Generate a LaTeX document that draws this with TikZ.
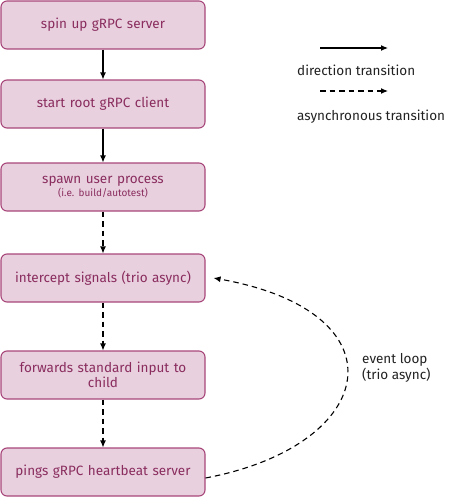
\documentclass[tikz,border=0pt]{standalone}
\usepackage{fontspec}
\setmainfont{Fira Sans}
\usepackage{xcolor}
\usepackage{tikz}
\usetikzlibrary{arrows.meta,positioning}

\definecolor{boxfill}{HTML}{E8D0DF}
\definecolor{boxline}{HTML}{A8477A}
\definecolor{boxtext}{HTML}{8A2D5E}
\definecolor{inktext}{HTML}{222222}

\begin{document}
\frenchspacing
\begin{tikzpicture}[
    x=1pt, y=1pt,
    box/.style={rectangle, draw=boxline, fill=boxfill, rounded corners=6pt, line width=1.1pt, minimum width=204pt, minimum height=48pt, text width=194pt, align=center, text=boxtext, font=\fontsize{13.5}{15}\selectfont},
    arrow/.style={-{Latex[length=7pt,width=6pt]}, line width=1.1pt},
    async/.style={arrow, dash pattern=on 5.5pt off 4pt},
    lbl/.style={text=inktext, font=\fontsize{13.5}{16.5}\selectfont, align=left, anchor=west, inner sep=0pt}
]
    \useasboundingbox (0,0) rectangle (468,-498);

    \node[box] (server) at (103,-25) {spin up gRPC server};
    \node[box] (client) at (103,-104) {start root gRPC client};
    \node[box] (spawn) at (103,-187) {spawn user process\\[-2pt]{\fontsize{10}{11}\selectfont (i.e. build/autotest)}};
    \node[box] (signals) at (103,-278) {intercept signals (trio async)};
    \node[box] (stdin) at (103,-375) {forwards standard input to\\child};
    \node[box] (heartbeat) at (103,-472) {pings gRPC heartbeat server};

    \draw[arrow] (server) -- (client);
    \draw[arrow] (client) -- (spawn);
    \draw[async] (spawn) -- (signals);
    \draw[async] (signals) -- (stdin);
    \draw[async] (stdin) -- (heartbeat);

    % event loop back to the signal handler
    \coordinate (loopend) at ([xshift=8pt]signals.east);
    \draw[async] ([yshift=-6pt]heartbeat.east) .. controls (380,-445) and (405,-312) .. (loopend);
    \node[lbl] (looplbl) at (362,-368) {event loop\\(trio async)};

    % legend
    \coordinate (solida) at (320,-48);
    \coordinate (solidb) at (388,-48);
    \coordinate (dasha) at (320,-91);
    \coordinate (dashb) at (388,-91);
    \draw[arrow] (solida) -- (solidb);
    \draw[async] (dasha) -- (dashb);
    \node[lbl] (solidlbl) at (297,-70) {direction transition};
    \node[lbl] (dashlbl) at (297,-117) {asynchronous transition};
\end{tikzpicture}
\end{document}
